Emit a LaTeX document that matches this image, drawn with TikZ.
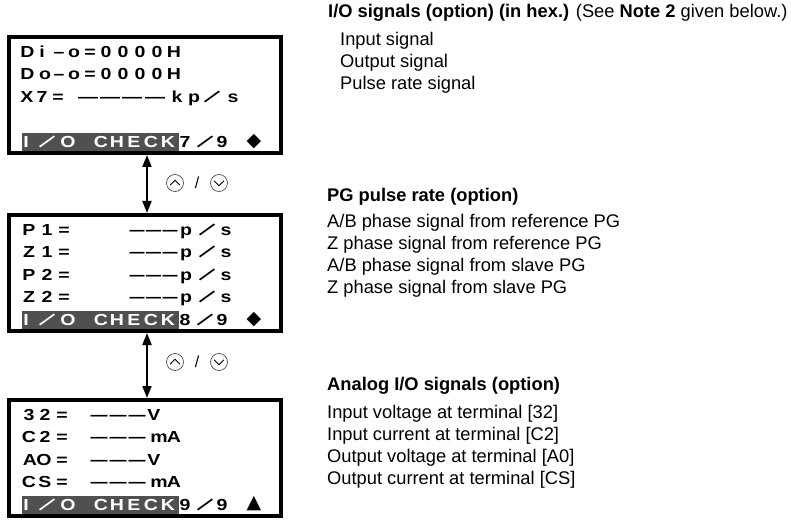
\documentclass[tikz,border=0pt]{standalone}
\usepackage{fontspec}
\usepackage{graphicx}
\setmainfont{Liberation Sans}
\newfontfamily\lcdfont[FakeStretch=1.22]{Liberation Sans}
\newfontfamily\symfont{DejaVu Sans}
\usetikzlibrary{arrows.meta}
\definecolor{hlgray}{RGB}{80,80,80}
\newcommand\ldash[1]{\resizebox{#1}{\height}{—}}
\newcommand\lcdrow[4]{\foreach \x/\c [count=\k] in {#4} \node[#2] (#1-\k) at (\x,#3) {\c};}
\newcommand\dashrow[4]{\foreach \x [count=\k] in {#4} \node[lcdch] (#1-\k) at (\x,#2) {\ldash{#3}};}
\newcommand\btns[2]{%
  \node[btn] (#1u) at (175,#2) {};
  \draw[chev] ([shift={(-5,2.2)}]#1u.center) -- ([shift={(0,-2.8)}]#1u.center) -- ([shift={(5,2.2)}]#1u.center);
  \node[inner sep=0pt, font=\fontsize{16}{16}\selectfont] (#1s) at (197,#2) {/};
  \node[btn] (#1d) at (219,#2) {};
  \draw[chev] ([shift={(-5,-2.2)}]#1d.center) -- ([shift={(0,2.8)}]#1d.center) -- ([shift={(5,-2.2)}]#1d.center);
}
\tikzset{
  lcdbox/.style={draw=black, line width=3.8pt, minimum width=272.2pt, minimum height=116.2pt, inner sep=0pt},
  lcdch/.style={inner sep=0pt, anchor=base, font=\lcdfont\bfseries\fontsize{16}{16}\selectfont},
  lcdw/.style={lcdch, text=white},
  lcdsl/.style={inner sep=0pt, anchor=center, rotate=-39, font=\fontsize{24}{24}\selectfont},
  desc/.style={inner sep=0pt, anchor=base west, font=\fontsize{18.3}{22}\selectfont},
  updown/.style={{Triangle[length=12pt,width=9pt]}-{Triangle[length=12pt,width=9pt]}, line width=2pt},
  btn/.style={circle, draw=black!70, line width=0.7pt, minimum size=17pt, inner sep=0pt},
  chev/.style={line width=0.8pt, line join=miter},
  marker/.style={inner sep=0pt, font=\symfont\fontsize{19}{19}\selectfont},
}
\begin{document}
\begin{tikzpicture}[x=1pt,y=-1pt]
\useasboundingbox (0,0) rectangle (791,521);

% ---------- box 1 ----------
\fill[hlgray] (22,133) rectangle (179,153.25);
\node[lcdbox] (b1) at (145,95) {};
\lcdrow{a1}{lcdch}{57.25}{27.5/D,42/i,59/–,74/o,90/=,106/0,123/0,140/0,157/0,174/H}
\lcdrow{a2}{lcdch}{79.75}{27.5/D,45/o,59/–,74/o,90/=,106/0,123/0,140/0,157/0,174/H}
\lcdrow{a3}{lcdch}{102.25}{27/X,42/7,58/=,177/k,194/p,233/s}
\dashrow{a3d}{102.25}{20pt}{88,110,132,155}
\node[lcdsl] (a3s) at (212,96.5) {/};
\lcdrow{a5}{lcdw}{147.75}{26/I,68/O,101/C,117/H,134/E,151/C,168/K}
\node[lcdsl,text=white] (a5s) at (47,142) {/};
\lcdrow{a5n}{lcdch}{147.75}{185/7,222/9}
\node[lcdsl] (a5t) at (205,142) {/};
\node[marker] (a5m) at (254,142) {◆};

% ---------- box 2 ----------
\fill[hlgray] (22,311) rectangle (179,331.25);
\node[lcdbox] (b2) at (145,273) {};
\lcdrow{c1}{lcdch}{235.25}{29/P,47/1,64/=,186/p,226/s}
\lcdrow{c2}{lcdch}{257.75}{29/Z,47/1,64/=,186/p,226/s}
\lcdrow{c3}{lcdch}{280.25}{29/P,47/2,64/=,186/p,226/s}
\lcdrow{c4}{lcdch}{302.75}{29/Z,47/2,64/=,186/p,226/s}
\dashrow{c1d}{235.25}{15pt}{137,153.5,170}
\dashrow{c2d}{257.75}{15pt}{137,153.5,170}
\dashrow{c3d}{280.25}{15pt}{137,153.5,170}
\dashrow{c4d}{302.75}{15pt}{137,153.5,170}
\node[lcdsl] (c1s) at (207,229.5) {/};
\node[lcdsl] (c2s) at (207,252) {/};
\node[lcdsl] (c3s) at (207,274.5) {/};
\node[lcdsl] (c4s) at (207,297) {/};
\lcdrow{c5}{lcdw}{325.75}{26/I,68/O,101/C,117/H,134/E,151/C,168/K}
\node[lcdsl,text=white] (c5s) at (47,320) {/};
\lcdrow{c5n}{lcdch}{325.75}{185/8,222/9}
\node[lcdsl] (c5t) at (205,320) {/};
\node[marker] (c5m) at (254,320) {◆};

% ---------- box 3 ----------
\fill[hlgray] (22,496) rectangle (179,516.25);
\node[lcdbox] (b3) at (145,458) {};
\lcdrow{e1}{lcdch}{420.25}{29/3,45/2,62/=,154/V}
\lcdrow{e2}{lcdch}{442.75}{29/C,45/2,62/=,159/m,174/A}
\lcdrow{e3}{lcdch}{465.25}{30/A,44/O,62/=,154/V}
\lcdrow{e4}{lcdch}{487.75}{29/C,45/S,62/=,159/m,174/A}
\dashrow{e1d}{420.25}{17pt}{99,118,137}
\dashrow{e2d}{442.75}{17pt}{99,118,137}
\dashrow{e3d}{465.25}{17pt}{99,118,137}
\dashrow{e4d}{487.75}{17pt}{99,118,137}
\lcdrow{e5}{lcdw}{510.75}{26/I,68/O,101/C,117/H,134/E,151/C,168/K}
\node[lcdsl,text=white] (e5s) at (47,505) {/};
\lcdrow{e5n}{lcdch}{510.75}{185/9,222/9}
\node[lcdsl] (e5t) at (205,505) {/};
\node[marker] (e5m) at (254,504) {▲};

% ---------- arrows ----------
\draw[updown] ([xshift=2pt]b1.south) -- ([xshift=2pt]b2.north);
\draw[updown] ([xshift=2pt]b2.south) -- ([xshift=2pt]b3.north);
\btns{k1}{183}
\btns{k2}{362}

% ---------- descriptions ----------
\node[desc] (t1) at (328,17.6) {\textbf{I/O signals (option) (in hex.)} (See \textbf{Note 2} given below.)};
\node[desc] (t1a) at (340,45.6) {Input signal};
\node[desc] (t1b) at (340,67.6) {Output signal};
\node[desc] (t1c) at (340,89.6) {Pulse rate signal};

\node[desc] (t2) at (327,201.6) {\textbf{PG pulse rate (option)}};
\node[desc] (t2a) at (327,227.6) {A/B phase signal from reference PG};
\node[desc] (t2b) at (327,249.6) {Z phase signal from reference PG};
\node[desc] (t2c) at (327,271.6) {A/B phase signal from slave PG};
\node[desc] (t2d) at (327,293.6) {Z phase signal from slave PG};

\node[desc] (t3) at (327,390.6) {\textbf{Analog I/O signals (option)}};
\node[desc] (t3a) at (327,418.6) {Input voltage at terminal [32]};
\node[desc] (t3b) at (327,440.6) {Input current at terminal [C2]};
\node[desc] (t3c) at (327,462.6) {Output voltage at terminal [A0]};
\node[desc] (t3d) at (327,484.6) {Output current at terminal [CS]};
\end{tikzpicture}
\end{document}
